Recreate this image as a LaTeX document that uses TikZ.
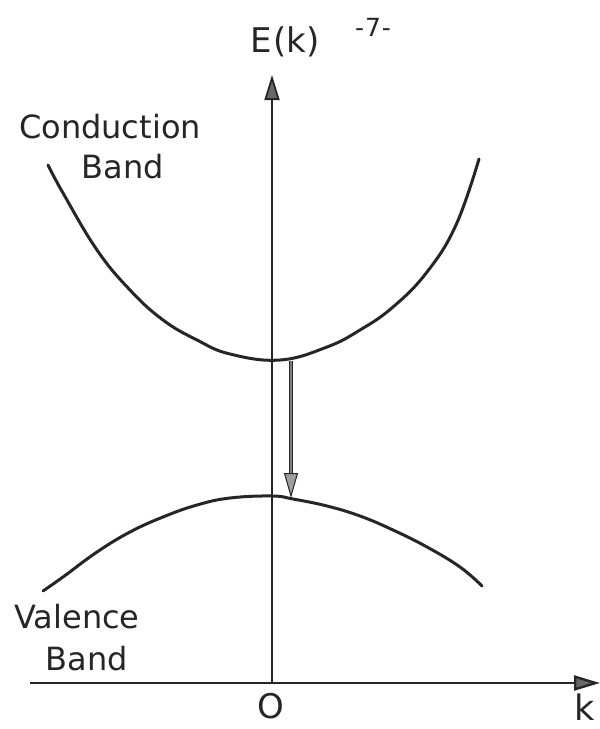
\documentclass[tikz,border=0pt]{standalone}
\usepackage{fontspec}
\setmainfont{DejaVu Sans}
\usetikzlibrary{arrows.meta}
\definecolor{ink}{HTML}{262626}
\tikzset{
  lbl/.style={inner sep=0pt, anchor=base, text=ink, font=\fontsize{32}{36}\selectfont},
  band/.style={draw=ink, line width=3pt, line cap=round},
  axis/.style={draw=ink, line width=2pt},
}
\begin{document}
\begin{tikzpicture}[x=1pt,y=-1pt]
\useasboundingbox (0,0) rectangle (600,729);
% coordinates
\coordinate (origin) at (272,683);
\coordinate (ytip) at (272,75);
\coordinate (xstart) at (30,683);
\coordinate (xtip) at (600,683);
\coordinate (cbmin) at (291,361);
\coordinate (vbmax) at (291,498);
% axes
\draw[axis, line width=1.8pt, -{Triangle[length=25pt,width=15pt,fill=ink!70]}] (origin) -- (ytip);
\draw[axis, line width=2.4pt, -{Triangle[length=26pt,width=15pt,fill=ink!70]}] (xstart) -- (xtip);
% bands
\draw[band] plot[smooth, tension=0.7] coordinates {(48,165) (63,193) (97,250) (130,290) (163,320) (197,340) (230,354) (280,360) (327,347) (360,330) (393,307) (427,272) (456,225) (479,159)};
\draw[band] plot[smooth, tension=0.7] coordinates {(43,591) (63,577) (97,552) (130,532) (163,517) (197,505) (230,498) (272,496) (293,499) (327,506) (360,516) (393,530) (427,547) (460,567) (482,586)};
% transition arrow
\draw[draw=ink, line width=1.2pt, double=ink!60, double distance=1.6pt, -{Triangle[length=25pt,width=14pt,fill=ink!45,line width=1pt]}] (cbmin) -- (vbmax);
% labels
\node[lbl] (cond) at (110,138) {Conduction};
\node[lbl] (cband) at (123,178) {Band};
\node[lbl] (val) at (77,628) {Valence};
\node[lbl] (vband) at (87,670) {Band};
\node[lbl, font=\fontsize{34}{38}\selectfont] (ek) at (285,52) {E\kern2pt(k)};
\node[lbl, font=\fontsize{25}{28}\selectfont] (page) at (373,36) {-\kern1pt7\kern1pt-};
\node[lbl, font=\fontsize{34}{38}\selectfont] (zero) at (271,718) {O};
\node[lbl, font=\fontsize{35}{40}\selectfont] (k) at (585,720) {k};
\end{tikzpicture}
\end{document}
